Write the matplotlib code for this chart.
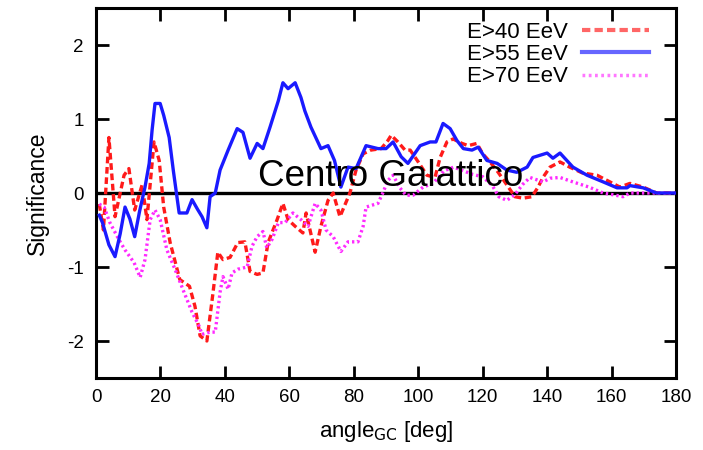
import matplotlib
matplotlib.use("Agg")
import matplotlib.pyplot as plt
from matplotlib.lines import Line2D

# Significance vs angular distance from the Galactic Centre, three energy thresholds
angle_40 = [1, 2.3, 4, 5.9, 8.7, 10.2, 12, 14.3, 15.8, 18, 19.6, 21, 23, 26, 29,
            30.7, 32.3, 34.4, 36.3, 37.8, 39.4, 41.6, 44, 46.2, 47.8, 50, 51.8,
            53.4, 56.2, 58, 59.6, 61.8, 64.2, 65.2, 68, 69.8, 72, 73.6, 75.7,
            78.8, 80.7, 82.9, 85.3, 88.5, 90.6, 91.6, 93.7, 95.9, 97.5, 100,
            102.7, 105.2, 106.8, 108.9, 110.8, 113.6, 115.5, 118.2, 120, 122.3,
            124.8, 127.5, 130, 132.5, 135.3, 137.2, 138.7, 140.9, 144, 147, 151,
            155.5, 158.6, 162.6, 165.7, 169.8, 174, 180]
sig_40 = [-0.15, -0.50, 0.75, -0.32, 0.24, 0.33, -0.23, 0.11, -0.36, 0.69, 0.44,
          -0.19, -0.67, -1.17, -1.26, -1.53, -1.93, -2.00, -1.35, -0.80, -0.90,
          -0.87, -0.67, -0.66, -1.06, -1.10, -1.08, -0.67, -0.36, -0.14, -0.36,
          -0.45, -0.54, -0.27, -0.80, -0.45, -0.10, 0.00, -0.32, 0.00, 0.31,
          0.53, 0.58, 0.60, 0.71, 0.78, 0.69, 0.58, 0.58, 0.42, 0.24, 0.21,
          0.48, 0.69, 0.73, 0.67, 0.64, 0.67, 0.53, 0.42, 0.28, 0.11, -0.05,
          -0.07, -0.05, 0.08, 0.21, 0.35, 0.42, 0.35, 0.27, 0.24, 0.17, 0.08,
          0.13, 0.08, 0.00, 0.00]

angle_55 = [1, 2, 4, 5.9, 7.5, 9, 10.5, 12, 13.5, 15.2, 16.5, 17.4, 18.3, 19.9,
            21, 22.7, 24, 25.8, 28.2, 29.8, 31.5, 32.9, 34.4, 35.4, 37, 38.5, 41,
            43.8, 45.6, 47.8, 50, 51.8, 54, 56.6, 58, 59.6, 61.8, 63.6, 64.8,
            66.7, 69.8, 72, 74, 76, 78.2, 80.7, 83.8, 87.5, 90, 92.2, 94.7, 96.8,
            100.6, 103.7, 105.5, 107.7, 109.9, 112, 114, 116.7, 118.6, 121.3,
            124.5, 127.5, 130.6, 133.8, 135.6, 140, 141.8, 144, 148, 152.4,
            157.4, 161.7, 164.8, 165.7, 169.8, 174, 180]
sig_55 = [-0.30, -0.40, -0.70, -0.86, -0.55, -0.19, -0.35, -0.59, -0.25, 0.08,
          0.40, 0.85, 1.21, 1.21, 1.05, 0.75, 0.30, -0.27, -0.27, -0.09, -0.22,
          -0.32, -0.47, -0.05, 0.00, 0.31, 0.58, 0.87, 0.82, 0.47, 0.67, 0.60,
          0.89, 1.25, 1.49, 1.41, 1.49, 1.29, 1.11, 0.89, 0.60, 0.64, 0.44,
          0.08, 0.35, 0.33, 0.64, 0.60, 0.60, 0.69, 0.49, 0.40, 0.64, 0.69,
          0.69, 0.94, 0.87, 0.71, 0.60, 0.58, 0.62, 0.44, 0.40, 0.31, 0.28,
          0.35, 0.48, 0.54, 0.47, 0.54, 0.35, 0.24, 0.15, 0.07, 0.07, 0.10,
          0.07, 0.00, 0.00]

angle_70 = [1, 2.5, 4.3, 7.1, 9, 11.8, 13.7, 15.2, 16.8, 18.3, 19.9, 22, 24.5,
            27.3, 29.8, 32, 32.9, 35.4, 37, 38.5, 39.4, 41, 42.2, 44, 46.9, 48.4,
            50, 51.8, 53, 54.6, 56.6, 58.7, 61.1, 63.6, 65.8, 68, 69.8, 71.4,
            73.6, 76, 78.2, 81.3, 82.9, 83.8, 87.5, 89, 90.6, 92.2, 94.3, 96.2,
            98.4, 101.5, 104.6, 108, 111, 114, 117, 120, 123, 125, 127.5, 130,
            132.5, 134.7, 138.7, 141, 144, 148, 153, 157.4, 160, 163.6, 165.7,
            170, 180]
sig_70 = [-0.15, -0.19, -0.40, -0.63, -0.77, -0.94, -1.14, -0.90, -0.36, -0.23,
          -0.36, -0.77, -1.03, -1.34, -1.61, -1.80, -1.91, -1.88, -1.88, -1.34,
          -1.13, -1.30, -1.08, -1.03, -1.00, -0.72, -0.59, -0.52, -0.74, -0.63,
          -0.40, -0.40, -0.27, -0.36, -0.45, -0.14, -0.23, -0.50, -0.59, -0.79,
          -0.66, -0.66, -0.45, -0.19, -0.14, 0.00, 0.17, 0.24, 0.07, -0.03,
          -0.03, 0.08, 0.13, 0.30, 0.35, 0.30, 0.25, 0.22, 0.10, -0.05, -0.10,
          -0.02, 0.12, 0.21, 0.15, 0.20, 0.21, 0.15, 0.08, 0.00, -0.02, -0.05,
          0.00, 0.00, 0.00]

labels = ["E>40 EeV", "E>55 EeV", "E>70 EeV"]
x_ticks = list(range(0, 181, 20))
y_ticks = [-2, -1, 0, 1, 2]

plt.rcParams["font.family"] = ["Liberation Sans", "DejaVu Sans"]
plt.rcParams["axes.unicode_minus"] = False

fig = plt.figure(figsize=(7.03, 4.5), dpi=100)
ax = fig.add_axes([0.1366, 0.16, 0.825, 0.8222])

ax.axhline(0, color="black", lw=2.4, zorder=1)
ax.plot(angle_40, sig_40, color="#ff1a1a", lw=2.4, ls=(0, (2.0, 1.1)), zorder=2)
ax.plot(angle_55, sig_55, color="#1a1aff", lw=2.4, zorder=3)
ax.plot(angle_70, sig_70, color="#ff2aff", lw=2.4, ls=(0, (0.7, 0.9)), zorder=2)

ax.text(91.5, 0.09, "Centro Galattico", fontsize=26.5, ha="center",
        va="baseline", color="black", zorder=5)

ax.set_xlim(0, 180)
ax.set_ylim(-2.5, 2.5)
ax.set_xticks(x_ticks)
ax.set_yticks(y_ticks)
ax.tick_params(direction="in", top=True, right=True, length=9, width=2,
               labelsize=13.5)
ax.tick_params(axis="x", pad=8)
ax.tick_params(axis="y", pad=9)
for s in ax.spines.values():
    s.set_linewidth(2.2)

ax.set_xlabel(r"angle$_{\mathrm{GC}}$ [deg]", fontsize=16, labelpad=9)
ax.set_ylabel("Significance", fontsize=16.5, labelpad=13)

# legend samples are drawn a bit paler than the curves
handles = [
    Line2D([], [], color="#ff6666", lw=3, ls=(0, (2, 1))),
    Line2D([], [], color="#6666ff", lw=3),
    Line2D([], [], color="#ff77ff", lw=2.5, ls=(0, (0.8, 1.0))),
]
ax.legend(handles, labels, loc="upper right", bbox_to_anchor=(0.953, 0.962),
          frameon=False, markerfirst=False, fontsize=16, handlelength=3.0,
          handletextpad=0.65, labelspacing=0.05, borderpad=0, borderaxespad=0)

plt.savefig("out.png", dpi=100)
